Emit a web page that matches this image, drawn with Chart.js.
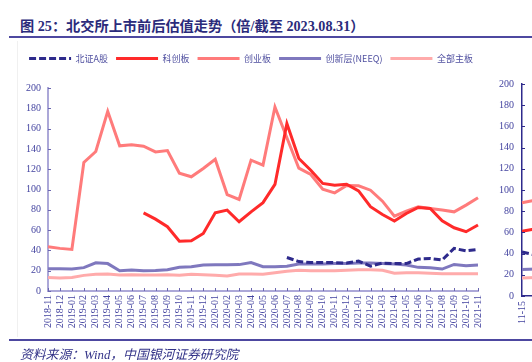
<!DOCTYPE html>
<html>
<head>
<meta charset="utf-8">
<script src="https://cdn.jsdelivr.net/npm/chart.js@4/dist/chart.umd.min.js"></script>
<style>
  html, body { margin: 0; padding: 0; background: #fff; }
  body { width: 532px; height: 362px; overflow: hidden; position: relative; }
  #title { position: absolute; left: 20px; top: 15px; line-height: 18px; font: bold 14.2px "Liberation Serif", "Noto Sans CJK SC", serif; color: #2b2b7b; white-space: nowrap; }
  #foot { position: absolute; left: 20px; top: 344px; line-height: 18px; font: italic 12.8px "Liberation Serif", "Noto Sans CJK SC", serif; color: #333388; white-space: nowrap; }
  .rule { position: absolute; left: 9px; width: 523px; height: 2px; background: #4d48a0; }
  #frame { position: absolute; left: 17px; top: 41px; width: 1px; height: 296px; background: #f0f0f0; }
  #c1 { position: absolute; left: 0; top: 45px; width: 502px; height: 295px; }
  #c2 { position: absolute; left: 470px; top: 40px; width: 200px; height: 322px; }
</style>
</head>
<body>
<div id="title">图 25：北交所上市前后估值走势（倍/截至 2023.08.31）</div>
<div class="rule" style="top:36px"></div>
<div id="frame"></div>
<canvas id="c1" width="502" height="295"></canvas>
<canvas id="c2" width="200" height="322"></canvas>
<div class="rule" style="top:339px"></div>
<div id="foot">资料来源：Wind，中国银河证券研究院</div>
<script>
// ---- data (main chart) ----
const categories = ['2018-11','2018-12','2019-01','2019-02','2019-03','2019-04','2019-05','2019-06','2019-07','2019-08','2019-09','2019-10','2019-11','2019-12','2020-01','2020-02','2020-03','2020-04','2020-05','2020-06','2020-07','2020-08','2020-09','2020-10','2020-11','2020-12','2021-01','2021-02','2021-03','2021-04','2021-05','2021-06','2021-07','2021-08','2021-09','2021-10','2021-11'];
const seriesNames = ['北证A股','科创板','创业板','创新层(NEEQ)','全部主板'];
const bzA = [null,null,null,null,null,null,null,null,null,null,null,null,null,null,null,null,null,null,null,null,33,29,28,28,28,27.5,29.5,24.5,27.5,27,27,31.5,32,30.5,42,39.5,41];
const kcb = [null,null,null,null,null,null,null,null,77,70.8,63.3,49,49.5,56.7,77,79.7,68.2,78,87,105,165,130.5,119,106,104.3,105.2,98.7,83,75.4,68.9,76.4,82.3,81.3,69.2,62.3,58.4,65];
const cyb = [43.6,42,41,126.6,137.4,177,143,144,142.6,137,138.4,116,112.5,120.7,129.8,95,90.2,128.9,124,181.3,151,121,114.8,100.3,96.7,104,103.6,99.3,88.5,73.8,78.7,83,81.3,79.7,78,84.6,91.8];
const xcc = [22,22,21.6,23,27.8,27,20,20.6,20,20.3,21,23.3,23.9,25.6,25.9,25.9,26,28,24,24,24.5,26.5,26.5,26.5,27,27,27.5,27.5,27,26.5,25.6,23.3,23,21.6,26.2,25,25.6];
const qbzb = [13.3,12.8,13.3,15.4,16.4,16.8,15.7,16,15.7,15.7,16,15.4,16.4,16,15.4,14.8,16.7,16.7,16.4,18,19.5,20.5,20,20,20,20.5,21,21,20.5,17.5,18,18,17.5,17,17,17,17];
const yTicksMain = { min: 0, max: 200, step: 20 };

// ---- data (second, cut-off chart on the right) ----
const categories2 = ['11-15','11-16','11-17'];
const bzA2 = [41.5,38.5,38];
const kcb2 = [61,63.5,63];
const cyb2 = [88,90.5,89.5];
const xcc2 = [25,25.5,25.5];
const qbzb2 = [17,17.5,17.5];

const colors = ['#2e2a8c','#ff2a2a','#ff7b7b','#7f78be','#ffabab'];
const tickColor = '#4444a0';
const serif = '"Liberation Serif", "Times New Roman", serif';

function ds(label, data, color, dashed) {
  return { label, data, borderColor: color, backgroundColor: color, borderWidth: 3,
    borderDash: dashed ? [7, 3] : [], pointRadius: 0, pointHoverRadius: 0, tension: 0, fill: false, spanGaps: false };
}

const inwardTicks = {
  id: 'inwardTicks',
  afterDraw(chart, args, opts) {
    const ctx = chart.ctx;
    ctx.save();
    ctx.strokeStyle = opts.color;
    ctx.lineWidth = 1;
    (opts.ids || []).forEach(id => {
      const s = chart.scales[id];
      if (!s) return;
      s.ticks.forEach((t, i) => {
        const p = Math.round(s.getPixelForTick(i)) + 0.5;
        ctx.beginPath();
        if (s.isHorizontal()) { ctx.moveTo(p, s.top); ctx.lineTo(p, s.top - opts.len); }
        else { ctx.moveTo(s.right, p); ctx.lineTo(s.right + opts.len, p); }
        ctx.stroke();
      });
    });
    ctx.restore();
  }
};

const legendGap = {
  id: 'legendGap',
  beforeInit(chart) {
    if (!chart.legend) return;
    const fit = chart.legend.fit;
    chart.legend.fit = function () { fit.bind(chart.legend)(); this.height += 15; };
  }
};

new Chart(document.getElementById('c1'), {
  type: 'line',
  data: {
    labels: categories,
    datasets: [
      ds(seriesNames[0], bzA, colors[0], true),
      ds(seriesNames[1], kcb, colors[1]),
      ds(seriesNames[2], cyb, colors[2]),
      ds(seriesNames[3], xcc, colors[3]),
      ds(seriesNames[4], qbzb, colors[4])
    ]
  },
  options: {
    responsive: false, animation: false, devicePixelRatio: 1,
    layout: { padding: { top: 1, left: 0, right: 0, bottom: 0 } },
    plugins: {
      tooltip: { enabled: false },
      legend: {
        position: 'top',
        labels: { usePointStyle: true, pointStyle: 'line', pointStyleWidth: 42, boxHeight: 9,
          font: { family: '"Noto Sans CJK SC", sans-serif', size: 9 }, color: '#5050a0', padding: 8,
          generateLabels(chart) {
            return chart.data.datasets.map((d, i) => ({
              text: d.label, datasetIndex: i, hidden: false,
              strokeStyle: d.borderColor, fillStyle: d.borderColor,
              lineWidth: 3, lineDash: d.borderDash, lineCap: 'butt',
              pointStyle: 'line', fontColor: '#5050a0'
            }));
          } }
      },
      inwardTicks: { ids: ['x', 'y'], color: '#6a66b0', len: 3 }
    },
    scales: {
      x: {
        offset: false,
        grid: { display: false, drawTicks: false },
        border: { color: '#aca8d8', width: 2 },
        ticks: { autoSkip: false, maxRotation: 90, minRotation: 90, padding: 4, color: tickColor, font: { family: serif, size: 10 } },
        afterFit(s) { s.height = 49; }
      },
      y: {
        min: yTicksMain.min, max: yTicksMain.max,
        grid: { display: false, drawTicks: false },
        border: { color: '#aca8d8', width: 2 },
        ticks: { stepSize: yTicksMain.step, padding: 7, color: tickColor, font: { family: serif, size: 10 } },
        afterFit(s) { s.width = 48; }
      },
      yR: {
        position: 'right', display: true,
        grid: { display: false, drawTicks: false }, border: { display: false },
        ticks: { display: false },
        afterFit(s) { s.width = 24; }
      }
    }
  },
  plugins: [inwardTicks, legendGap]
});

new Chart(document.getElementById('c2'), {
  type: 'line',
  data: {
    labels: categories2,
    datasets: [
      ds(seriesNames[0], bzA2, colors[0], true),
      ds(seriesNames[1], kcb2, colors[1]),
      ds(seriesNames[2], cyb2, colors[2]),
      ds(seriesNames[3], xcc2, colors[3]),
      ds(seriesNames[4], qbzb2, colors[4])
    ]
  },
  options: {
    responsive: false, animation: false, devicePixelRatio: 1,
    layout: { padding: { top: 44, left: 0, right: 120, bottom: 0 } },
    plugins: { tooltip: { enabled: false }, legend: { display: false },
      inwardTicks: { ids: ['y'], color: '#2e2a8c', len: 3 } },
    scales: {
      x: {
        offset: false,
        grid: { display: false, drawTicks: false },
        border: { color: '#2e2a8c', width: 1.5 },
        ticks: { autoSkip: true, maxRotation: 90, minRotation: 90, padding: 5, color: tickColor, font: { family: serif, size: 10 } },
        afterFit(s) { s.height = 66; }
      },
      y: {
        min: yTicksMain.min, max: yTicksMain.max,
        grid: { display: false, drawTicks: false },
        border: { color: '#2e2a8c', width: 1.5 },
        ticks: { stepSize: yTicksMain.step, padding: 8, color: tickColor, font: { family: serif, size: 10 } },
        afterFit(s) { s.width = 52; }
      }
    }
  },
  plugins: [inwardTicks]
});
</script>
</body>
</html>
